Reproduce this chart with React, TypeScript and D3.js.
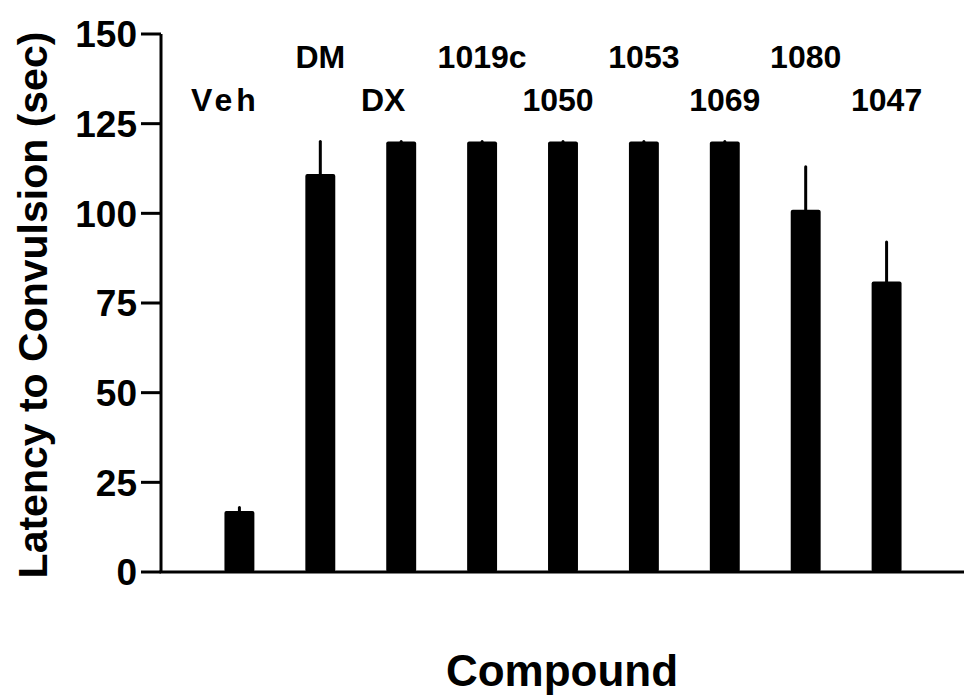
import React from "react";
import * as d3 from "d3";

const compounds = ["Veh", "DM", "DX", "1019c", "1050", "1053", "1069", "1080", "1047"];
const latency = [17, 111, 120, 120, 120, 120, 120, 101, 81];
const errTop = [18, 120, 120, 120, 120, 120, 120, 113, 92];
const yTicks = [0, 25, 50, 75, 100, 125, 150];

const WIDTH = 964;
const HEIGHT = 700;
const axisX = 161;
const axisY = 572;
const FONT = "'Liberation Sans', Arial, sans-serif";

export default function App() {
  const y = d3.scaleLinear().domain([0, 150]).range([axisY, 34]);
  const x = d3.scaleBand<string>()
    .domain(compounds)
    .range([184, 942])
    .paddingInner(0.63)
    .paddingOuter(0.5);
  const bw = x.bandwidth();

  // labels alternate between two rows; a couple sit a bit left of their bar
  const labelRow = (i: number) => (i % 2 === 0 ? 111 : 68);
  const labelShift = (i: number) => (i === 0 ? -14 : i === 2 ? -18 : i === 4 ? -5 : 0);

  return (
    <svg width={WIDTH} height={HEIGHT} style={{ position: "absolute", left: 0, top: 0 }}>
      <rect width={WIDTH} height={HEIGHT} fill="#fff" />

      {compounds.map((c, i) => {
        const cx = x(c)! + bw / 2;
        return (
          <g key={c}>
            <line x1={cx} x2={cx} y1={y(latency[i])} y2={y(errTop[i])}
              stroke="#000" strokeWidth={3} strokeLinecap="round" />
            <rect x={x(c)} y={y(latency[i])} width={bw} height={axisY - y(latency[i])}
              rx={2} fill="#000" />
            <text x={cx + labelShift(i)} y={labelRow(i)} textAnchor="middle"
              fontFamily={FONT} fontWeight="bold" fontSize={32}
              letterSpacing={i === 0 ? 4 : 0}>{c}</text>
          </g>
        );
      })}

      {/* axes */}
      <line x1={axisX} x2={axisX} y1={y(150)} y2={axisY} stroke="#000" strokeWidth={3} />
      <line x1={axisX - 1.5} x2={WIDTH} y1={axisY} y2={axisY} stroke="#000" strokeWidth={3} />
      {yTicks.map((t) => (
        <g key={t}>
          <line x1={141} x2={axisX} y1={y(t)} y2={y(t)} stroke="#000" strokeWidth={3} />
          <text x={137} y={y(t)} dy="0.36em" textAnchor="end"
            fontFamily={FONT} fontWeight="bold" fontSize={37}>{t}</text>
        </g>
      ))}

      <text transform={`translate(47,305) rotate(-90)`} textAnchor="middle"
        fontFamily={FONT} fontWeight="bold" fontSize={41}>Latency to Convulsion (sec)</text>
      <text x={562} y={686} textAnchor="middle"
        fontFamily={FONT} fontWeight="bold" fontSize={44}>Compound</text>
    </svg>
  );
}
